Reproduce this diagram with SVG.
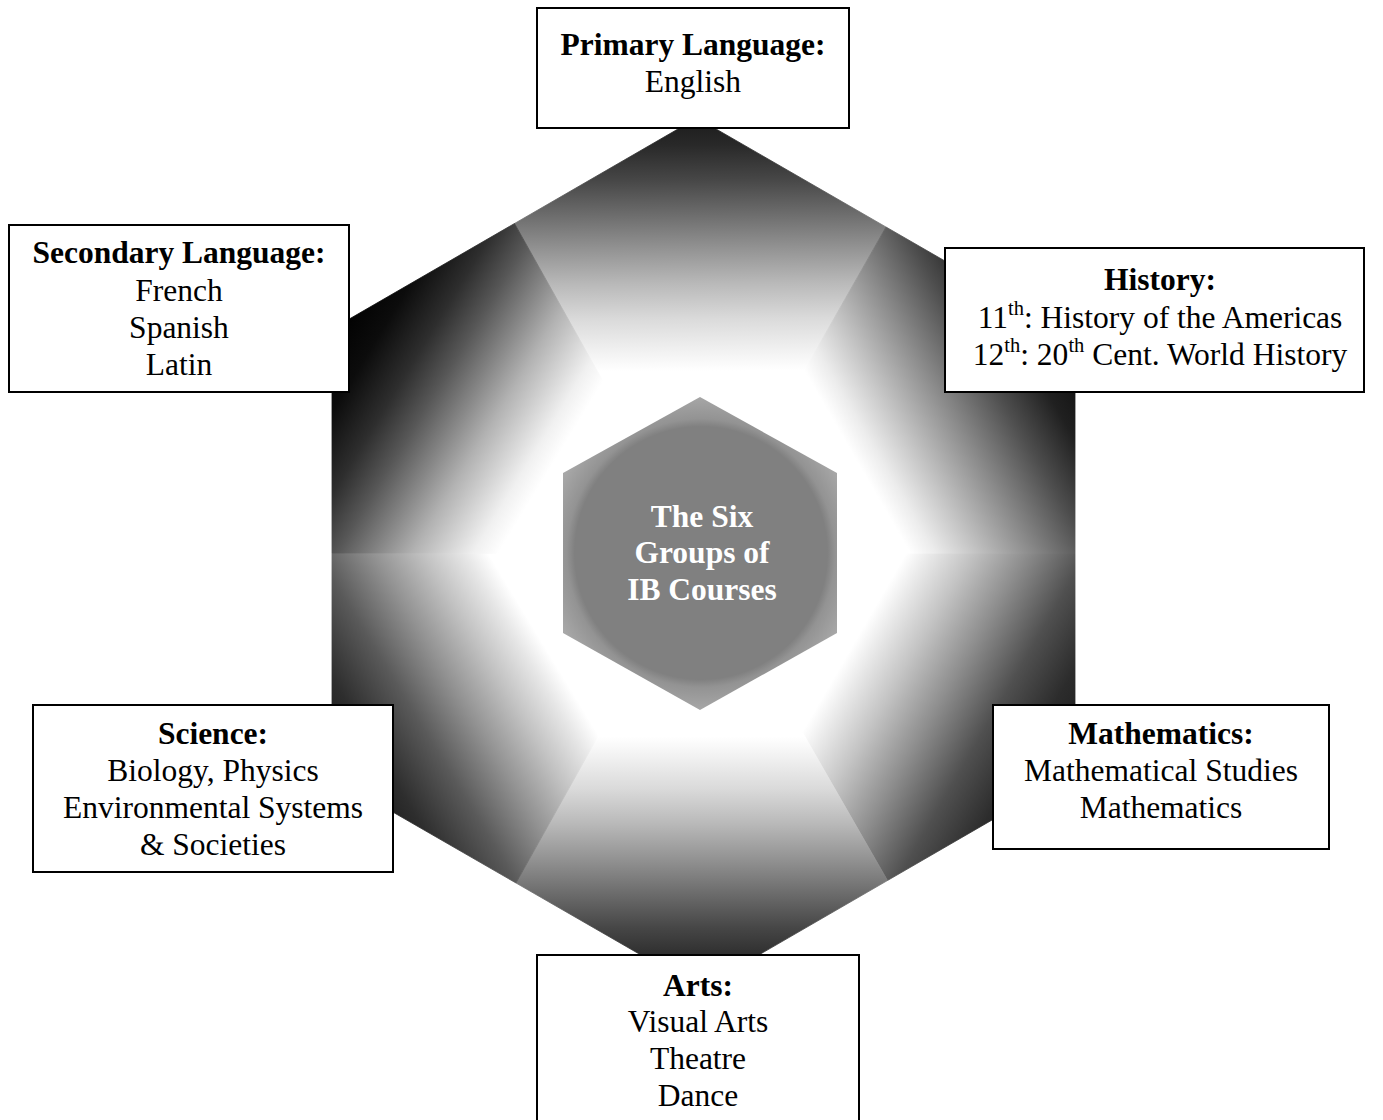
<svg xmlns="http://www.w3.org/2000/svg" width="1383" height="1120" viewBox="0 0 1383 1120">
<style>
.box{fill:#fff;stroke:#000;stroke-width:2}
.t{font-family:"Liberation Serif","Times New Roman",serif;font-size:31.5px;fill:#000;text-anchor:middle}
.b{font-weight:bold}
.c{font-family:"Liberation Serif","Times New Roman",serif;font-size:31.5px;font-weight:bold;fill:#fff;text-anchor:middle}
.sup{font-size:20.5px}
</style>
<defs>
<linearGradient id="gT" gradientUnits="userSpaceOnUse" x1="697" y1="118" x2="700" y2="554">
<stop offset="0" stop-color="#1c1c1c"/><stop offset="0.06" stop-color="#282828"/><stop offset="0.14" stop-color="#464646"/><stop offset="0.22" stop-color="#6c6c6c"/><stop offset="0.3" stop-color="#939393"/><stop offset="0.38" stop-color="#b9b9b9"/><stop offset="0.46" stop-color="#dadada"/><stop offset="0.53" stop-color="#f0f0f0"/><stop offset="0.58" stop-color="#fff"/><stop offset="1" stop-color="#fff"/>
</linearGradient>
<linearGradient id="gB" href="#gT" gradientUnits="userSpaceOnUse" x1="700" y1="989" x2="700" y2="554"/>
<linearGradient id="gUL" gradientUnits="userSpaceOnUse" x1="332" y1="329" x2="700" y2="554">
<stop offset="0" stop-color="#000"/><stop offset="0.1" stop-color="#0c0c0c"/><stop offset="0.2" stop-color="#2e2e2e"/><stop offset="0.28" stop-color="#575757"/><stop offset="0.36" stop-color="#878787"/><stop offset="0.43" stop-color="#b2b2b2"/><stop offset="0.5" stop-color="#d6d6d6"/><stop offset="0.55" stop-color="#f0f0f0"/><stop offset="0.6" stop-color="#fff"/><stop offset="1" stop-color="#fff"/>
</linearGradient>
<linearGradient id="gUR" gradientUnits="userSpaceOnUse" x1="1075" y1="336" x2="700" y2="554">
<stop offset="0" stop-color="#0a0a0a"/><stop offset="0.12" stop-color="#202020"/><stop offset="0.22" stop-color="#4e4e4e"/><stop offset="0.34" stop-color="#8c8c8c"/><stop offset="0.45" stop-color="#c4c4c4"/><stop offset="0.53" stop-color="#ececec"/><stop offset="0.58" stop-color="#fff"/><stop offset="1" stop-color="#fff"/>
</linearGradient>
<linearGradient id="gLL" gradientUnits="userSpaceOnUse" x1="332" y1="777" x2="700" y2="554">
<stop offset="0" stop-color="#151515"/><stop offset="0.12" stop-color="#2e2e2e"/><stop offset="0.24" stop-color="#5a5a5a"/><stop offset="0.35" stop-color="#929292"/><stop offset="0.45" stop-color="#c2c2c2"/><stop offset="0.53" stop-color="#e6e6e6"/><stop offset="0.58" stop-color="#fff"/><stop offset="1" stop-color="#fff"/>
</linearGradient>
<linearGradient id="gLR" gradientUnits="userSpaceOnUse" x1="1075" y1="772" x2="700" y2="554">
<stop offset="0" stop-color="#1a1a1a"/><stop offset="0.12" stop-color="#2c2c2c"/><stop offset="0.23" stop-color="#505050"/><stop offset="0.35" stop-color="#8e8e8e"/><stop offset="0.46" stop-color="#c4c4c4"/><stop offset="0.54" stop-color="#e8e8e8"/><stop offset="0.59" stop-color="#fff"/><stop offset="1" stop-color="#fff"/>
</linearGradient>
<radialGradient id="gC" gradientUnits="userSpaceOnUse" cx="701" cy="553" r="158">
<stop offset="0" stop-color="#808080"/><stop offset="0.8" stop-color="#808080"/><stop offset="0.85" stop-color="#939393"/><stop offset="1" stop-color="#a8a8a8"/>
</radialGradient>
</defs>

<g id="hexagon">
<polygon points="514.5,223.5 697,118 886,227 700,554" fill="url(#gT)" stroke="url(#gT)" stroke-width="0.8"/>
<polygon points="886,227 1075,336 1075,554 700,554" fill="url(#gUR)" stroke="url(#gUR)" stroke-width="0.8"/>
<polygon points="1075,554 1075,772 887.5,880.5 700,554" fill="url(#gLR)" stroke="url(#gLR)" stroke-width="0.8"/>
<polygon points="887.5,880.5 700,989 516,883 700,554" fill="url(#gB)" stroke="url(#gB)" stroke-width="0.8"/>
<polygon points="516,883 332,777 332,553 700,554" fill="url(#gLL)" stroke="url(#gLL)" stroke-width="0.8"/>
<polygon points="332,553 332,329 514.5,223.5 700,554" fill="url(#gUL)" stroke="url(#gUL)" stroke-width="0.8"/>
</g>

<g id="center">
<polygon points="700,397 837,473 837,633 700,710 563,633 563,473" fill="url(#gC)"/>
<text class="c" x="702" y="527">The Six</text>
<text class="c" x="702" y="563">Groups of</text>
<text class="c" x="702" y="600">IB Courses</text>
</g>

<g id="connectors"></g>

<g id="primary">
<rect class="box" x="537" y="8" width="312" height="120"/>
<text class="t b" x="693" y="55">Primary Language:</text>
<text class="t" x="693" y="92">English</text>
</g>

<g id="secondary">
<rect class="box" x="9" y="225" width="340" height="167"/>
<text class="t b" x="179" y="263">Secondary Language:</text>
<text class="t" x="179" y="301">French</text>
<text class="t" x="179" y="338">Spanish</text>
<text class="t" x="179" y="375">Latin</text>
</g>

<g id="history">
<rect class="box" x="945" y="248" width="419" height="144"/>
<text class="t b" x="1160" y="290">History:</text>
<text class="t" x="1160" y="328">11<tspan class="sup" dy="-13">th</tspan><tspan dy="13">: History of the Americas</tspan></text>
<text class="t" x="1160" y="365">12<tspan class="sup" dy="-13">th</tspan><tspan dy="13">: 20</tspan><tspan class="sup" dy="-13">th</tspan><tspan dy="13"> Cent. World History</tspan></text>
</g>

<g id="science">
<rect class="box" x="33" y="705" width="360" height="167"/>
<text class="t b" x="213" y="744">Science:</text>
<text class="t" x="213" y="781">Biology, Physics</text>
<text class="t" x="213" y="818">Environmental Systems</text>
<text class="t" x="213" y="855">&amp; Societies</text>
</g>

<g id="math">
<rect class="box" x="993" y="705" width="336" height="144"/>
<text class="t b" x="1161" y="744">Mathematics:</text>
<text class="t" x="1161" y="781">Mathematical Studies</text>
<text class="t" x="1161" y="818">Mathematics</text>
</g>

<g id="arts">
<rect class="box" x="537" y="955" width="322" height="175"/>
<text class="t b" x="698" y="996">Arts:</text>
<text class="t" x="698" y="1032">Visual Arts</text>
<text class="t" x="698" y="1069">Theatre</text>
<text class="t" x="698" y="1106">Dance</text>
</g>
</svg>
